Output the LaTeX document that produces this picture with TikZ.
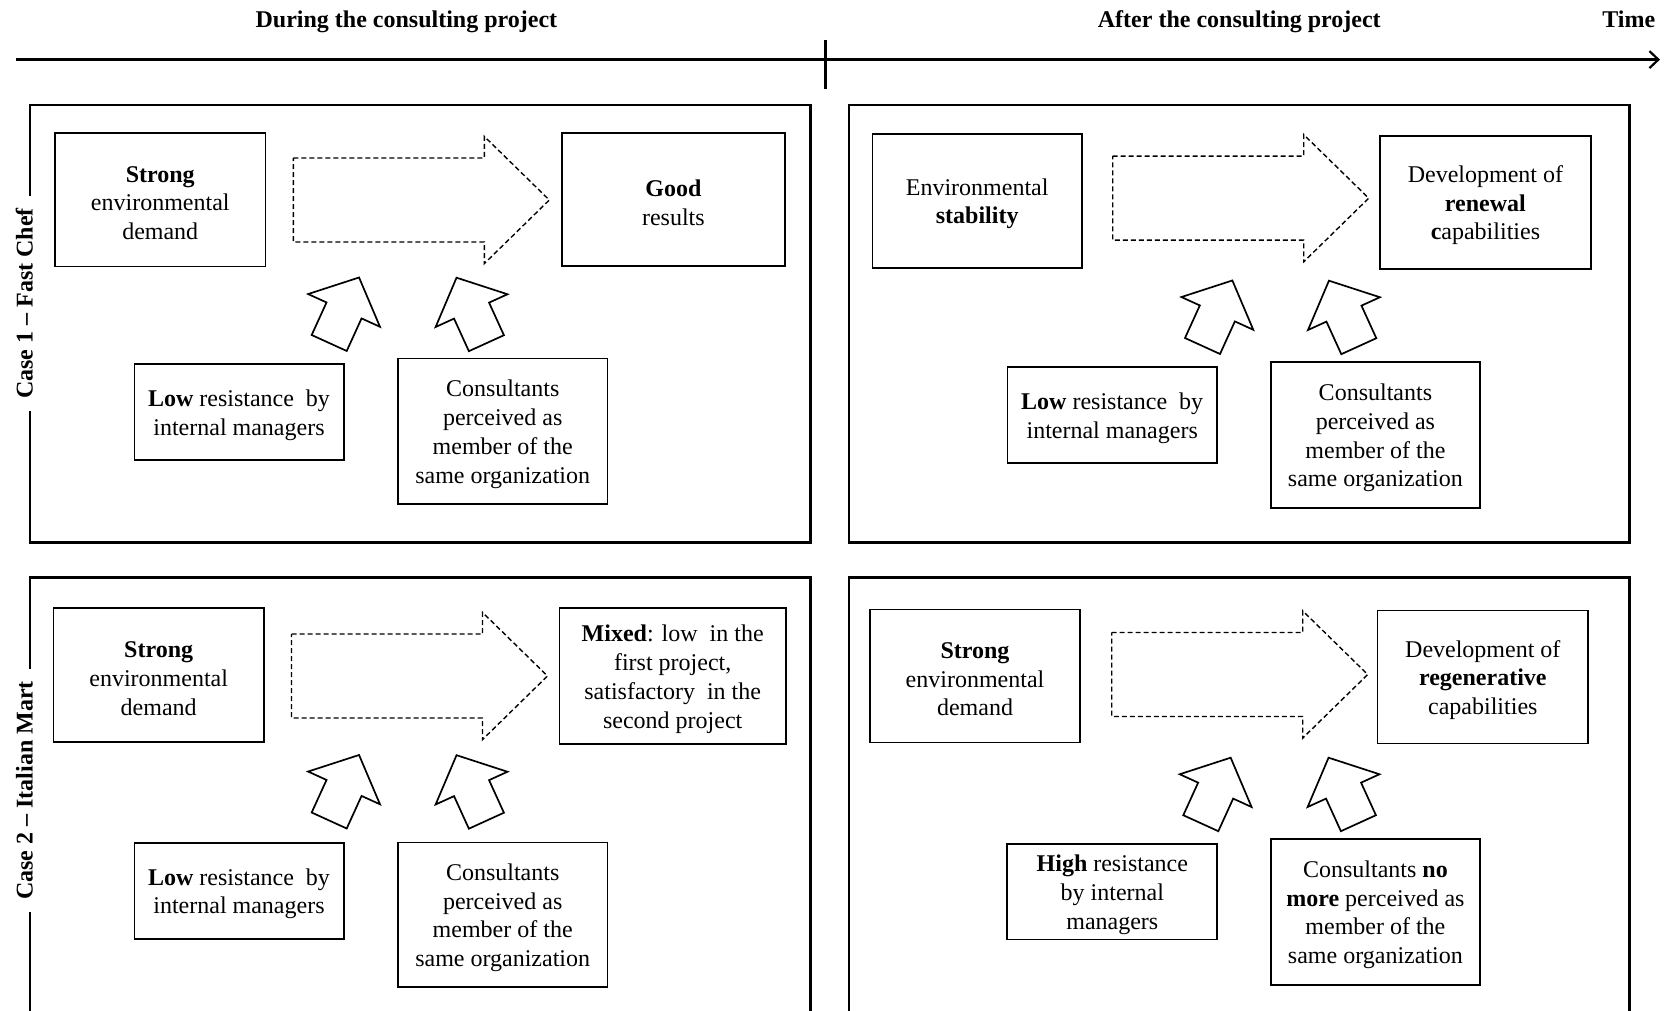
\documentclass[tikz,border=0pt]{standalone}
\usepackage{fontspec}
\setmainfont{Liberation Serif}
\usetikzlibrary{arrows.meta}
% extra room above the first line of a box text
\newcommand{\topgap}{\rule{0pt}{22.5pt}}
\begin{document}
\begin{tikzpicture}[x=1pt,y=-1pt,
  panel/.style={draw, line width=2.6pt},
  box/.style={draw, line width=1.7pt, inner sep=0pt, align=center,
    font=\fontsize{24}{28.8}\selectfont},
  head/.style={font=\bfseries\fontsize{24}{28.8}\selectfont, anchor=base, inner sep=0pt},
  caselabel/.style={font=\bfseries\fontsize{24}{28.8}\selectfont, rotate=90,
    anchor=base, fill=white, inner xsep=12pt, inner ysep=3pt},
  flow/.style={draw, dash pattern=on 5pt off 3pt, line width=1.4pt},
  push/.style={draw, line width=1.7pt, line join=miter},
  flowarrow/.pic={\path[flow] (0,-42) -- (191,-42) -- (191,-63.6) -- (256,0)
      -- (191,63.6) -- (191,42) -- (0,42) -- cycle;},
  pusharrow/.pic={\path[push] (-19.25,0) -- (19.25,0) -- (19.25,-35.8) -- (39.5,-35.8)
      -- (0,-72) -- (-39.5,-35.8) -- (-19.25,-35.8) -- cycle;},
]
\useasboundingbox (0,0) rectangle (1668,1011);

% time axis
\coordinate (t0) at (16,59.6);
\coordinate (t1) at (1660,59.6);
\coordinate (m0) at (825.5,40.4);
\coordinate (m1) at (825.5,89.4);
\draw[line width=2.6pt, -{Straight Barb[length=9pt,width=17pt,line width=2.2pt]}] (t0) -- (t1);
\draw[line width=2.2pt] (m0) -- (m1);
\node[head] (during) at (406.4,28) {During the consulting project};
\node[head] (after) at (1239.3,28) {After the consulting project};
\node[head] (time) at (1628.7,28) {Time};

% panels
\draw[panel] (30,105) rectangle (810.6,542.3);
\draw[panel] (849,105) rectangle (1629.3,542.3);
\draw[panel] (30,1011) -- (30,577.3) -- (810.6,577.3) -- (810.6,1011);
\draw[panel] (849,1011) -- (849,577.3) -- (1629.3,577.3) -- (1629.3,1011);

\node[caselabel] (case1) at (32.5,303.5) {Case 1 -- Fast Chef};
\node[caselabel] (case2) at (32.5,790.5) {Case 2 -- Italian Mart};

% Case 1, during
\node[box, minimum width=210.5pt, minimum height=133.5pt] (a1) at (160.25,199.75)
  {\topgap\textbf{Strong}\\environmental\\demand};
\node[box, minimum width=223.4pt, minimum height=133pt] (b1) at (673.4,199.5)
  {\topgap\textbf{Good}\\results};
\node[box, minimum width=209.3pt, minimum height=96pt] (c1) at (239,412)
  {\topgap\textbf{Low} resistance\ \ by\\internal managers};
\node[box, minimum width=209.5pt, minimum height=145.7pt] (d1) at (502.7,431.4)
  {\topgap Consultants\\perceived as\\member of the\\same organization};
\pic at (293.3,200) {flowarrow};
\pic[rotate=-24.5] at (329.2,343) {pusharrow};
\pic[rotate=24.5] at (486.4,343.2) {pusharrow};

% Case 1, after
\node[box, minimum width=209.7pt, minimum height=133.7pt] (a2) at (977.2,200.9)
  {\topgap Environmental\\\textbf{stability}};
\node[box, minimum width=210.7pt, minimum height=133.3pt] (b2) at (1485.4,202.4)
  {\topgap Development of\\\textbf{renewal}\\\textbf{c}apabilities};
\node[box, minimum width=209.7pt, minimum height=96pt] (c2) at (1112.2,415.3)
  {\topgap\textbf{Low} resistance\ \ by\\internal managers};
\node[box, minimum width=209.3pt, minimum height=146.6pt] (d2) at (1375.4,435)
  {\topgap Consultants\\perceived as\\member of the\\same organization};
\pic at (1112.7,198.2) {flowarrow};
\pic[rotate=-24.5] at (1202.5,346) {pusharrow};
\pic[rotate=24.5] at (1358.8,346.2) {pusharrow};

% Case 2, during
\node[box, minimum width=210.7pt, minimum height=134pt] (a3) at (158.7,675.3)
  {\topgap\textbf{Strong}\\environmental\\demand};
\node[box, minimum width=226.7pt, minimum height=136pt] (b3) at (672.7,676.3)
  {\topgap\textbf{Mixed}: low\ \ in the\\first project,\\satisfactory\ \ in the\\second project};
\node[box, minimum width=209.3pt, minimum height=96.3pt] (c3) at (239,890.8)
  {\topgap\textbf{Low} resistance\ \ by\\internal managers};
\node[box, minimum width=209.5pt, minimum height=144.7pt] (d3) at (502.7,914.9)
  {\topgap Consultants\\perceived as\\member of the\\same organization};
\pic at (291.5,676) {flowarrow};
\pic[rotate=-24.5] at (329.2,820.5) {pusharrow};
\pic[rotate=24.5] at (486.4,820.7) {pusharrow};

% Case 2, after
\node[box, minimum width=209.6pt, minimum height=133pt] (a4) at (975,676)
  {\topgap\textbf{Strong}\\environmental\\demand};
\node[box, minimum width=210.4pt, minimum height=133pt] (b4) at (1482.8,677.1)
  {\topgap Development of\\\textbf{regenerative}\\capabilities};
\node[box, minimum width=210pt, minimum height=95.3pt] (c4) at (1112.3,891.7)
  {\topgap\textbf{High} resistance\\by internal\\managers};
\node[box, minimum width=209.3pt, minimum height=146.3pt] (d4) at (1375.4,911.9)
  {\topgap Consultants \textbf{no}\\\textbf{more} perceived as\\member of the\\same organization};
\pic at (1111.7,674.5) {flowarrow};
\pic[rotate=-24.5] at (1200.8,823.2) {pusharrow};
\pic[rotate=24.5] at (1358.4,823.2) {pusharrow};
\end{tikzpicture}
\end{document}
